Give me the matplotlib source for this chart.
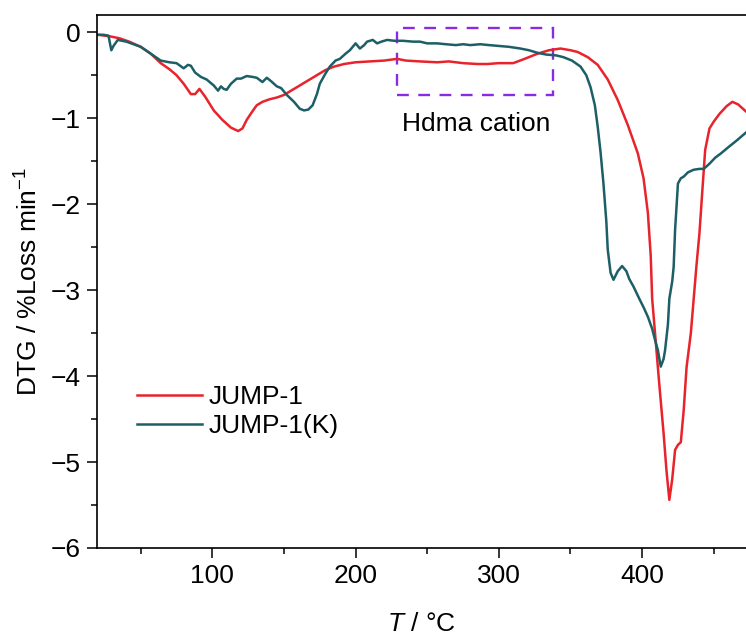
#!/usr/bin/env python3
"""DTG curves of JUMP-1 and JUMP-1(K)."""

import matplotlib

matplotlib.use("Agg")
import matplotlib.pyplot as plt  # noqa: E402
from matplotlib.patches import Rectangle  # noqa: E402
from matplotlib.ticker import MultipleLocator  # noqa: E402

plt.rcParams["font.family"] = ["Liberation Sans", "DejaVu Sans"]
plt.rcParams["mathtext.fontset"] = "custom"
plt.rcParams["mathtext.rm"] = "Liberation Sans"
plt.rcParams["mathtext.it"] = "Liberation Sans:italic"

FS = 19

# JUMP-1
t_red = [20, 25, 29, 35, 42, 50, 57, 64, 70, 75, 80, 85, 88, 91, 95, 101, 107, 113, 118, 121,
         124, 128, 131, 135, 140, 145, 150, 155, 161, 167, 173, 179, 185, 192, 200, 210, 220,
         229, 235, 245, 257, 265, 275, 285, 292, 300, 310, 318, 327, 335, 343, 350, 355, 362,
         369, 376, 383, 390, 397, 401, 404, 406, 407, 409, 412, 415, 417, 419, 421, 423, 425,
         427, 429, 431, 434, 436, 438, 440, 442, 444, 447, 450, 454, 459, 463, 467, 473]
dtg_red = [-0.03, -0.04, -0.05, -0.07, -0.11, -0.17, -0.25, -0.36, -0.43, -0.50, -0.60, -0.72,
           -0.72, -0.66, -0.75, -0.91, -1.02, -1.11, -1.15, -1.12, -1.02, -0.92, -0.85, -0.81,
           -0.78, -0.76, -0.73, -0.68, -0.62, -0.56, -0.50, -0.44, -0.40, -0.37, -0.35, -0.34,
           -0.33, -0.31, -0.33, -0.34, -0.35, -0.34, -0.36, -0.37, -0.37, -0.36, -0.36, -0.31,
           -0.25, -0.21, -0.19, -0.21, -0.23, -0.29, -0.38, -0.55, -0.79, -1.08, -1.41, -1.70,
           -2.10, -2.60, -3.10, -3.50, -4.10, -4.67, -5.10, -5.44, -5.20, -4.86, -4.80, -4.77,
           -4.40, -3.90, -3.50, -3.10, -2.70, -2.34, -1.85, -1.37, -1.12, -1.04, -0.95, -0.86,
           -0.81, -0.84, -0.93]

# JUMP-1(K)
t_teal = [20, 24, 27.5, 29.5, 31, 34, 40, 45, 50, 57, 64, 70, 75, 80, 83, 85, 88, 92, 96, 101,
          104, 106, 108, 110, 113, 117, 120, 124, 128, 131, 135, 138, 141, 145, 148, 152, 157,
          161, 164, 167, 170, 173, 175, 179, 182, 186, 189, 193, 196, 200, 203, 206, 208, 212,
          215, 218, 222, 227, 233, 240, 245, 250, 257, 263, 270, 275, 280, 287, 293, 300, 307,
          315, 321, 327, 333, 340, 345, 351, 357, 361, 364, 367, 369, 371, 373, 375, 376, 378,
          380, 383, 386, 389, 391, 394, 398, 401, 404, 407, 409, 411, 413, 415, 416, 418, 419,
          421, 422, 423, 425, 427, 429, 432, 436, 440, 443, 447, 451, 455, 460, 466, 473]
dtg_teal = [-0.03, -0.03, -0.04, -0.21, -0.16, -0.09, -0.11, -0.14, -0.17, -0.25, -0.33, -0.35,
            -0.36, -0.42, -0.38, -0.39, -0.47, -0.52, -0.55, -0.62, -0.68, -0.63, -0.66, -0.67,
            -0.60, -0.54, -0.54, -0.51, -0.52, -0.53, -0.58, -0.53, -0.57, -0.63, -0.65, -0.73,
            -0.81, -0.89, -0.91, -0.90, -0.85, -0.72, -0.60, -0.48, -0.40, -0.33, -0.31, -0.25,
            -0.21, -0.13, -0.19, -0.15, -0.11, -0.09, -0.13, -0.11, -0.09, -0.10, -0.10, -0.11,
            -0.11, -0.13, -0.13, -0.14, -0.15, -0.14, -0.15, -0.14, -0.15, -0.16, -0.17, -0.19,
            -0.21, -0.24, -0.26, -0.27, -0.29, -0.33, -0.40, -0.50, -0.64, -0.85, -1.10, -1.40,
            -1.76, -2.20, -2.53, -2.80, -2.88, -2.78, -2.72, -2.78, -2.87, -2.96, -3.10, -3.20,
            -3.31, -3.45, -3.58, -3.70, -3.89, -3.80, -3.70, -3.40, -3.10, -2.90, -2.73, -2.30,
            -1.76, -1.70, -1.68, -1.63, -1.60, -1.59, -1.59, -1.53, -1.46, -1.41, -1.34, -1.26,
            -1.16]

labels = ["JUMP-1", "JUMP-1(K)"]
colors = ["#e8232b", "#1c5f66"]

# highlighted region (T range, DTG range)
box_t = (229, 338)
box_dtg = (-0.73, 0.05)

fig = plt.figure(figsize=(7.46, 6.37), dpi=100)
ax = fig.add_axes([97 / 746, 89 / 637, 649 / 746, 533 / 637])

ax.plot(t_red, dtg_red, color=colors[0], lw=1.8, label=labels[0])
ax.plot(t_teal, dtg_teal, color=colors[1], lw=1.8, label=labels[1])

ax.add_patch(Rectangle((box_t[0], box_dtg[0]), box_t[1] - box_t[0], box_dtg[1] - box_dtg[0],
                       fill=False, edgecolor="#8a2be2", lw=1.7, ls=(0, (5, 4))))
ax.text(284, -1.07, "Hdma cation", fontsize=FS, ha="center", va="center")

ax.set_xlim(19.5, 472.5)
ax.set_ylim(-6, 0.2)
ax.xaxis.set_major_locator(MultipleLocator(100))
ax.xaxis.set_minor_locator(MultipleLocator(50))
ax.yaxis.set_major_locator(MultipleLocator(1))
ax.yaxis.set_minor_locator(MultipleLocator(0.5))
ax.tick_params(which="major", direction="out", length=7.5, width=1.1, labelsize=FS, pad=4)
ax.tick_params(which="minor", direction="out", length=4.5, width=1.1)
ax.spines["right"].set_visible(False)
for side in ("left", "bottom", "top"):
    ax.spines[side].set_linewidth(1.2)

ax.set_xlabel("$T$ / °C", fontsize=FS, labelpad=17)
ax.set_ylabel("DTG / %Loss min$^{-1}$", fontsize=FS, labelpad=6)

ax.legend(loc="center left", bbox_to_anchor=(0.062, 0.256), frameon=False, fontsize=FS,
          handlelength=2.46, handletextpad=0.25, labelspacing=0.2, borderpad=0, borderaxespad=0)

fig.savefig("out.png", dpi=100)
